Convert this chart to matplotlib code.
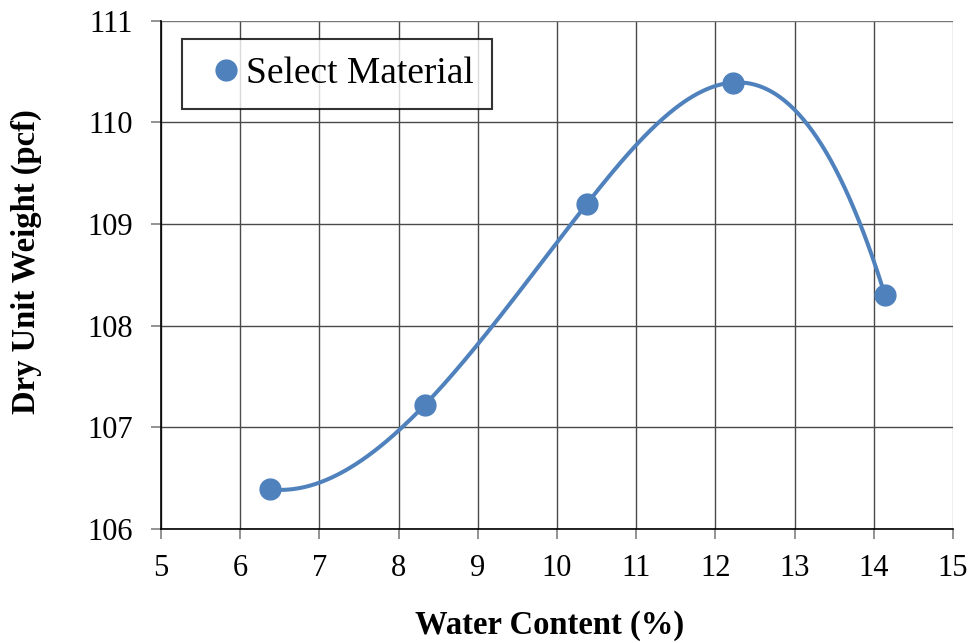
import numpy as np
import matplotlib.pyplot as plt
from matplotlib.lines import Line2D

plt.rcParams['font.family'] = ['Liberation Serif', 'DejaVu Serif']

# compaction test points
water = [6.37, 8.33, 10.38, 12.22, 14.14]
dry_wt = [106.39, 107.22, 109.2, 110.39, 108.3]


def smooth_curve(x, y, n=400):
    # not-a-knot cubic spline through the points
    x = np.asarray(x, float)
    y = np.asarray(y, float)
    k = len(x)
    h = np.diff(x)
    d = np.diff(y) / h
    A = np.zeros((k, k))
    r = np.zeros(k)
    A[0, 0], A[0, 1], A[0, 2] = h[1], -(h[0] + h[1]), h[0]
    for i in range(1, k - 1):
        A[i, i - 1] = h[i - 1]
        A[i, i] = 2 * (h[i - 1] + h[i])
        A[i, i + 1] = h[i]
        r[i] = 6 * (d[i] - d[i - 1])
    A[-1, -3], A[-1, -2], A[-1, -1] = h[-1], -(h[-2] + h[-1]), h[-2]
    M = np.linalg.solve(A, r)

    xs = np.linspace(x[0], x[-1], n)
    idx = np.clip(np.searchsorted(x, xs) - 1, 0, k - 2)
    hh = h[idx]
    a = (x[idx + 1] - xs) / hh
    b = 1 - a
    ys = a * y[idx] + b * y[idx + 1] + ((a ** 3 - a) * M[idx] + (b ** 3 - b) * M[idx + 1]) * hh ** 2 / 6
    return xs, ys


col = '#4F81BD'
fig = plt.figure(figsize=(9.71, 6.43), dpi=100)
ax = fig.add_axes([0.1658, 0.1773, 0.8157, 0.7908])

sx, sy = smooth_curve(water, dry_wt)
ax.plot(sx, sy, color=col, lw=2.9, solid_capstyle='round', zorder=3)
ax.plot(water, dry_wt, 'o', color=col, ms=15, zorder=4)

ax.set_xlim(5, 15)
ax.set_ylim(106, 111)
ax.set_xticks(range(5, 16))
ax.set_yticks(range(106, 112))
ax.grid(True, color='#4a4a4a', lw=1.0)
ax.xaxis.get_gridlines()[-1].set_color('#aaaaaa')
ax.yaxis.get_gridlines()[-1].set_color('#777777')
ax.set_axisbelow(True)
for s in ['top', 'right']:
    ax.spines[s].set_visible(False)
for s in ['left', 'bottom']:
    ax.spines[s].set_color('black')
    ax.spines[s].set_linewidth(1.2)
ax.tick_params(axis='both', labelsize=22, color='#808080', length=7, width=1.2)
ax.tick_params(axis='x', pad=11)
ax.tick_params(axis='y', pad=13)

ax.set_xlabel('Water Content (%)', fontsize=23.5, fontweight='bold')
ax.set_ylabel('Dry Unit Weight (pcf)', fontsize=23.5, fontweight='bold')
ax.xaxis.set_label_coords(0.49, -0.159)
ax.yaxis.set_label_coords(-0.150, 0.525)

handle = Line2D([], [], marker='o', color=col, ls='', ms=15)
leg = ax.legend([handle], ['Select Material'], loc='upper left', bbox_to_anchor=(0.0265, 0.9636),
                fontsize=27, frameon=True, fancybox=False, handletextpad=-0.15,
                handlelength=1.4, borderpad=0.47, borderaxespad=0)
leg.get_frame().set_edgecolor('black')
leg.get_frame().set_linewidth(1.5)

fig.savefig('out.png', dpi=100)
